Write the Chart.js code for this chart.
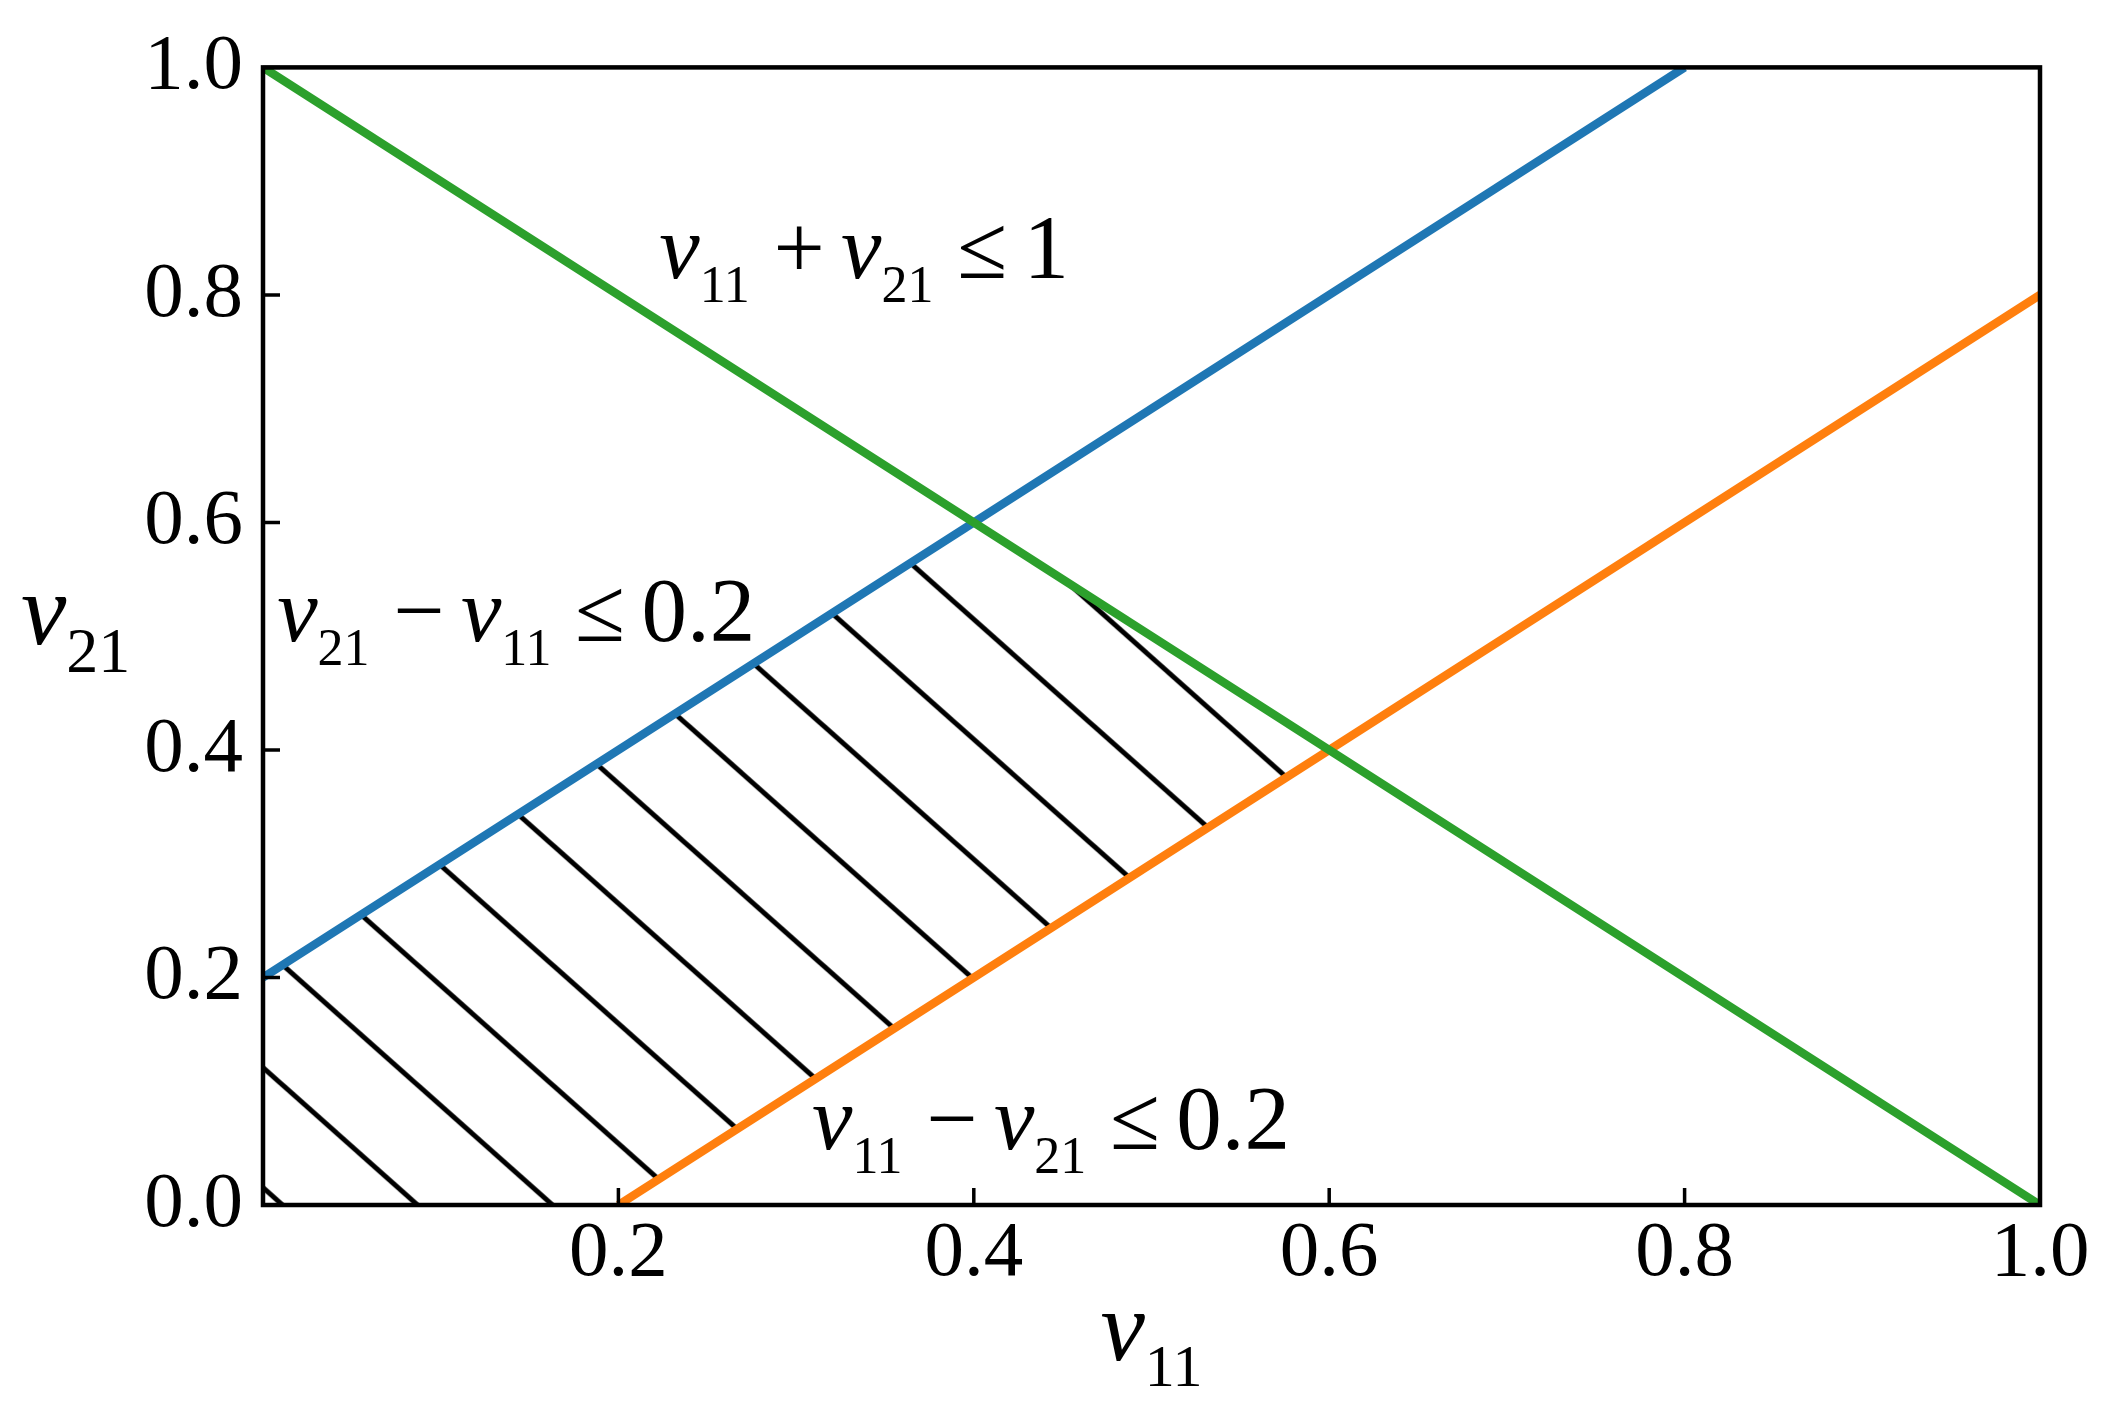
<!DOCTYPE html>
<html>
<head>
<meta charset="utf-8">
<script src="https://cdn.jsdelivr.net/npm/chart.js@4.4.0/dist/chart.umd.min.js"></script>
<style>
    html, body { margin: 0; padding: 0; background: #fff; }
    #wrap { width: 2104px; height: 1416px; }
</style>
</head>
<body>
<div id="wrap"><canvas id="chart" width="2104" height="1416"></canvas></div>
<script>
// constraint lines
const blueX = [0.0, 0.8];
const blueY = [0.2, 1.0];
const orangeX = [0.2, 1.0];
const orangeY = [0.0, 0.8];
const greenX = [0.0, 1.0];
const greenY = [1.0, 0.0];

// feasible region (hatched)
const regionX = [0.0, 0.0, 0.4, 0.6, 0.2, 0.0];
const regionY = [0.0, 0.2, 0.6, 0.4, 0.0, 0.0];

const xTicks = [0.2, 0.4, 0.6, 0.8, 1.0];
const yTicks = [0.0, 0.2, 0.4, 0.6, 0.8, 1.0];

// math texts: [italic, subscript] pairs, operators and numbers
const noteTexts = [
    [['v', '11'], '+', ['v', '21'], '\u2264', '1'],
    [['v', '21'], '\u2212', ['v', '11'], '\u2264', '0.2'],
    [['v', '11'], '\u2212', ['v', '21'], '\u2264', '0.2']
];
const noteX = [0.223, 0.008, 0.309];
const noteY = [0.815, 0.496, 0.0496];
const xTitle = [['v', '11']];
const yTitle = [['v', '21']];

const toPoints = (xs, ys) => xs.map((x, i) => ({ x: x, y: ys[i] }));

const FONT = '"Liberation Serif", "Times New Roman", serif';
const OPS = ['+', '\u2212', '\u2264'];

function drawMath(ctx, tokens, x, y, big, small, drop, measureOnly) {
    let cx = x;
    const gap = big * 0.18;
    tokens.forEach((t, i) => {
        if (Array.isArray(t)) {
            ctx.font = 'italic ' + big + 'px ' + FONT;
            if (!measureOnly) ctx.fillText(t[0], cx, y);
            cx += ctx.measureText(t[0]).width;
            ctx.font = small + 'px ' + FONT;
            if (!measureOnly) ctx.fillText(t[1], cx, y + drop);
            cx += ctx.measureText(t[1]).width;
            if (i < tokens.length - 1) cx += big * 0.08;
        } else {
            ctx.font = big + 'px ' + FONT;
            const isOp = OPS.indexOf(t) >= 0;
            if (isOp) cx += gap;
            if (!measureOnly) ctx.fillText(t, cx, y);
            cx += ctx.measureText(t).width;
            if (isOp) cx += gap;
        }
    });
    return cx - x;
}

// hatch pattern, anchored so a stripe crosses the x axis at this value
const hatchAnchor = 0.163;
let hatchCache = null;
function makeHatch(chart) {
    const area = chart.chartArea;
    if (!area || !chart.scales.x) return 'rgba(0,0,0,0)';
    if (hatchCache) return hatchCache;
    const W = 135, H = 120;
    const tile = document.createElement('canvas');
    tile.width = W;
    tile.height = H;
    const t = tile.getContext('2d');
    t.strokeStyle = '#000';
    t.lineWidth = 5;
    [-1, 0, 1].forEach(k => {
        t.beginPath();
        t.moveTo(k * W - W * 0.2, -H * 0.2);
        t.lineTo(k * W + W * 1.2, H * 1.2);
        t.stroke();
    });
    const pattern = chart.ctx.createPattern(tile, 'repeat');
    const px = chart.scales.x.getPixelForValue(hatchAnchor);
    const py = chart.scales.y.getPixelForValue(0);
    pattern.setTransform(new DOMMatrix().translate(px, py));
    hatchCache = pattern;
    return pattern;
}

const framePlugin = {
    id: 'frame',
    afterDatasetsDraw(chart) {
        const { ctx, chartArea, scales } = chart;
        ctx.save();
        ctx.strokeStyle = '#000';
        ctx.lineWidth = 3.5;
        ctx.beginPath();
        xTicks.forEach(v => {
            const px = scales.x.getPixelForValue(v);
            ctx.moveTo(px, chartArea.bottom);
            ctx.lineTo(px, chartArea.bottom - 17);
        });
        yTicks.forEach(v => {
            const py = scales.y.getPixelForValue(v);
            ctx.moveTo(chartArea.left, py);
            ctx.lineTo(chartArea.left + 17, py);
        });
        ctx.stroke();
        ctx.lineWidth = 4.5;
        ctx.strokeRect(chartArea.left, chartArea.top,
            chartArea.right - chartArea.left, chartArea.bottom - chartArea.top);
        ctx.restore();
    }
};

const mathPlugin = {
    id: 'mathText',
    afterDraw(chart) {
        const { ctx, chartArea, scales } = chart;
        ctx.save();
        ctx.fillStyle = '#000';
        ctx.textAlign = 'left';
        ctx.textBaseline = 'alphabetic';
        noteTexts.forEach((tokens, i) => {
            drawMath(ctx, tokens, scales.x.getPixelForValue(noteX[i]),
                scales.y.getPixelForValue(noteY[i]), 91, 52, 24);
        });
        const xw = drawMath(ctx, xTitle, 0, 0, 100, 60, 26, true);
        drawMath(ctx, xTitle, (chartArea.left + chartArea.right) / 2 - xw / 2,
            chartArea.bottom + 155, 100, 60, 26);
        drawMath(ctx, yTitle, chartArea.left - 242,
            (chartArea.top + chartArea.bottom) / 2 + 8, 102, 64, 28);
        ctx.restore();
    }
};

Chart.defaults.font.family = FONT;
Chart.defaults.color = '#000';

const ctx = document.getElementById('chart');

new Chart(ctx, {
    type: 'line',
    data: {
        datasets: [
            {
                data: toPoints(greenX, greenY),
                borderColor: '#2ca02c',
                borderWidth: 8.5,
                pointRadius: 0,
                fill: false
            },
            {
                data: toPoints(orangeX, orangeY),
                borderColor: '#ff7f0e',
                borderWidth: 8.5,
                pointRadius: 0,
                fill: false
            },
            {
                data: toPoints(blueX, blueY),
                borderColor: '#1f77b4',
                borderWidth: 8.5,
                pointRadius: 0,
                fill: false
            },
            {
                data: toPoints(regionX, regionY),
                borderColor: 'rgba(0,0,0,0)',
                borderWidth: 0,
                pointRadius: 0,
                fill: 'shape',
                backgroundColor: c => makeHatch(c.chart)
            }
        ]
    },
    options: {
        responsive: false,
        animation: false,
        devicePixelRatio: 1,
        layout: {
            padding: { top: 56, right: 64, left: 0, bottom: 0 }
        },
        plugins: {
            legend: { display: false },
            tooltip: { enabled: false }
        },
        scales: {
            x: {
                type: 'linear',
                min: 0,
                max: 1,
                grid: { display: false, drawTicks: false },
                border: { display: false },
                ticks: {
                    padding: 2,
                    font: { size: 79 },
                    color: '#000',
                    maxRotation: 0,
                    callback: v => v.toFixed(1)
                },
                afterBuildTicks: s => { s.ticks = xTicks.map(v => ({ value: v })); },
                afterFit: s => { s.height = 211; }
            },
            y: {
                type: 'linear',
                min: 0,
                max: 1,
                grid: { display: false, drawTicks: false },
                border: { display: false },
                ticks: {
                    padding: 20,
                    font: { size: 79 },
                    color: '#000',
                    callback: v => v.toFixed(1)
                },
                afterBuildTicks: s => { s.ticks = yTicks.map(v => ({ value: v })); },
                afterFit: s => { s.width = 263; }
            }
        }
    },
    plugins: [framePlugin, mathPlugin]
});
</script>
</body>
</html>
